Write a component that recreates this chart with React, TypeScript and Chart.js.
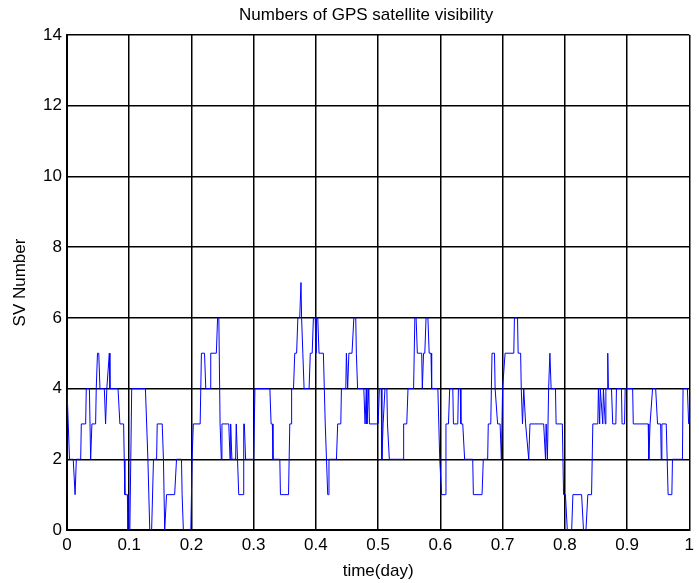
import React, { useEffect, useRef } from "react";
import { Chart, registerables } from "chart.js";

Chart.register(...registerables);

const chartTitle = "Numbers of GPS satellite visibility";
const xAxisLabel = "time(day)";
const yAxisLabel = "SV Number";
const xTickValues = [0, 0.1, 0.2, 0.3, 0.4, 0.5, 0.6, 0.7, 0.8, 0.9, 1];
const yTickValues = [0, 2, 4, 6, 8, 10, 12, 14];

const timeDays = [
  0.000, 0.002, 0.003, 0.004, 0.010, 0.013, 0.015, 0.022, 0.023, 0.030,
  0.031, 0.036, 0.038, 0.040, 0.046, 0.047, 0.049, 0.051, 0.053, 0.060,
  0.062, 0.064, 0.068, 0.069, 0.082, 0.085, 0.091, 0.092, 0.093, 0.097,
  0.098, 0.101, 0.104, 0.126, 0.130, 0.133, 0.136, 0.139, 0.144, 0.145,
  0.153, 0.155, 0.157, 0.160, 0.173, 0.176, 0.184, 0.185, 0.187, 0.199,
  0.201, 0.203, 0.214, 0.216, 0.221, 0.223, 0.230, 0.231, 0.240, 0.242,
  0.244, 0.246, 0.248, 0.249, 0.260, 0.262, 0.263, 0.265, 0.271, 0.272,
  0.274, 0.276, 0.283, 0.284, 0.285, 0.287, 0.300, 0.302, 0.326, 0.328,
  0.330, 0.331, 0.342, 0.343, 0.356, 0.358, 0.360, 0.361, 0.364, 0.366,
  0.369, 0.371, 0.374, 0.376, 0.377, 0.379, 0.381, 0.389, 0.391, 0.394,
  0.396, 0.399, 0.400, 0.401, 0.403, 0.405, 0.408, 0.412, 0.415, 0.416,
  0.417, 0.419, 0.420, 0.421, 0.433, 0.435, 0.440, 0.441, 0.448, 0.449,
  0.451, 0.453, 0.458, 0.461, 0.464, 0.465, 0.467, 0.477, 0.479, 0.481,
  0.482, 0.485, 0.486, 0.500, 0.502, 0.505, 0.506, 0.508, 0.511, 0.514,
  0.515, 0.518, 0.540, 0.541, 0.546, 0.548, 0.557, 0.559, 0.561, 0.563,
  0.570, 0.571, 0.573, 0.575, 0.577, 0.580, 0.582, 0.585, 0.586, 0.596,
  0.599, 0.602, 0.608, 0.609, 0.613, 0.615, 0.620, 0.621, 0.628, 0.629,
  0.632, 0.633, 0.636, 0.639, 0.652, 0.653, 0.667, 0.669, 0.676, 0.677,
  0.681, 0.682, 0.683, 0.687, 0.688, 0.689, 0.692, 0.696, 0.698, 0.700,
  0.704, 0.718, 0.719, 0.724, 0.725, 0.729, 0.730, 0.732, 0.734, 0.737,
  0.742, 0.744, 0.766, 0.769, 0.770, 0.772, 0.774, 0.776, 0.778, 0.785,
  0.786, 0.796, 0.798, 0.801, 0.804, 0.811, 0.813, 0.827, 0.830, 0.834,
  0.837, 0.843, 0.845, 0.853, 0.854, 0.856, 0.857, 0.861, 0.862, 0.865,
  0.866, 0.868, 0.869, 0.870, 0.875, 0.877, 0.882, 0.883, 0.891, 0.892,
  0.896, 0.897, 0.909, 0.910, 0.934, 0.935, 0.937, 0.941, 0.946, 0.949,
  0.954, 0.955, 0.956, 0.963, 0.966, 0.972, 0.973, 0.989, 0.990, 0.997,
  0.999,
];

const svNumber = [
  4, 3, 3, 2, 2, 1, 2, 2, 3, 3,
  4, 4, 2, 3, 3, 4, 5, 5, 4, 4,
  3, 4, 5, 4, 4, 3, 3, 2, 1, 1,
  0, 0, 4, 4, 2, 0, 0, 2, 2, 3,
  3, 2, 0, 1, 1, 2, 2, 1, 0, 0,
  2, 3, 3, 5, 5, 4, 4, 5, 5, 6,
  6, 3, 2, 3, 3, 2, 3, 2, 2, 3,
  2, 1, 1, 3, 3, 2, 2, 4, 4, 3,
  3, 2, 2, 1, 1, 3, 3, 4, 4, 5,
  5, 6, 6, 7, 6, 5, 4, 4, 5, 5,
  6, 6, 5, 6, 6, 5, 5, 5, 3, 3,
  2, 1, 1, 2, 2, 3, 3, 4, 4, 5,
  4, 5, 5, 6, 6, 5, 4, 4, 3, 4,
  3, 4, 3, 3, 4, 4, 2, 3, 4, 4,
  3, 2, 2, 3, 3, 4, 4, 6, 6, 5,
  5, 4, 5, 5, 6, 6, 5, 5, 4, 4,
  2, 1, 1, 3, 3, 4, 4, 3, 3, 4,
  4, 3, 3, 2, 2, 1, 1, 2, 2, 3,
  3, 4, 5, 5, 4, 4, 3, 3, 2, 4,
  5, 5, 6, 6, 5, 5, 4, 3, 4, 3,
  2, 3, 3, 2, 3, 2, 4, 5, 4, 4,
  3, 3, 1, 1, 0, 0, 1, 1, 0, 0,
  1, 1, 3, 3, 4, 3, 4, 3, 4, 3,
  4, 4, 5, 4, 4, 3, 3, 4, 4, 3,
  3, 4, 4, 3, 3, 2, 3, 4, 4, 3,
  3, 2, 3, 3, 1, 1, 2, 2, 4, 4,
  3,
];

const FONT = "'Liberation Sans', Arial, sans-serif";

// Draws the chart title over the plot area (as the original does).
const plotTitlePlugin = {
  id: "plotTitle",
  afterDraw(chart: any) {
    const { ctx, chartArea } = chart;
    ctx.save();
    ctx.fillStyle = "#000";
    ctx.font = `17px ${FONT}`;
    ctx.textAlign = "center";
    ctx.textBaseline = "middle";
    ctx.fillText(chartTitle, (chartArea.left + chartArea.right) / 2 - 12, 15);
    ctx.restore();
  },
};

export default function App() {
  const canvasRef = useRef<HTMLCanvasElement | null>(null);

  useEffect(() => {
    const canvas = canvasRef.current;
    if (!canvas) return;
    const points = timeDays.map((t, i) => ({ x: t, y: svNumber[i] }));
    const chart = new Chart(canvas, {
      type: "line",
      data: {
        datasets: [
          {
            data: points,
            borderColor: "#0000ff",
            backgroundColor: "#0000ff",
            borderWidth: 1,
            pointRadius: 0,
            tension: 0,
            fill: false,
          },
        ],
      },
      plugins: [plotTitlePlugin],
      options: {
        responsive: false,
        animation: false,
        layout: { padding: { left: 0, right: 6, top: 35, bottom: 0 } },
        plugins: {
          legend: { display: false },
          tooltip: { enabled: false },
          title: { display: false },
        },
        scales: {
          x: {
            type: "linear",
            min: xTickValues[0],
            max: xTickValues[xTickValues.length - 1],
            afterBuildTicks: (scale: any) => {
              scale.ticks = xTickValues.map((v) => ({ value: v }));
            },
            afterFit: (scale: any) => {
              scale.height = 53;
            },
            ticks: {
              color: "#000",
              font: { family: FONT, size: 17 },
              padding: 5,
              maxRotation: 0,
              autoSkip: false,
              callback: (v: any) => String(Number(Number(v).toFixed(1))),
            },
            grid: { color: "#000", lineWidth: 1.5, drawTicks: false },
            border: { color: "#000", width: 2 },
            title: {
              display: true,
              text: xAxisLabel,
              color: "#000",
              font: { family: FONT, size: 17 },
              padding: { top: 0, bottom: 1 },
            },
          },
          y: {
            type: "linear",
            min: yTickValues[0],
            max: yTickValues[yTickValues.length - 1],
            afterBuildTicks: (scale: any) => {
              scale.ticks = yTickValues.map((v) => ({ value: v }));
            },
            afterFit: (scale: any) => {
              scale.width = 67;
            },
            ticks: {
              color: "#000",
              font: { family: FONT, size: 17 },
              padding: 5,
              autoSkip: false,
            },
            grid: { color: "#000", lineWidth: 1.5, drawTicks: false },
            border: { color: "#000", width: 2 },
            title: {
              display: true,
              text: yAxisLabel,
              color: "#000",
              font: { family: FONT, size: 17 },
              padding: { top: 10, bottom: 0 },
            },
          },
        },
      },
    });
    return () => chart.destroy();
  }, []);

  return (
    <div style={{ position: "absolute", left: 0, top: 0, width: 699, height: 583, background: "#fff" }}>
      <canvas ref={canvasRef} width={699} height={583} style={{ display: "block" }} />
    </div>
  );
}
